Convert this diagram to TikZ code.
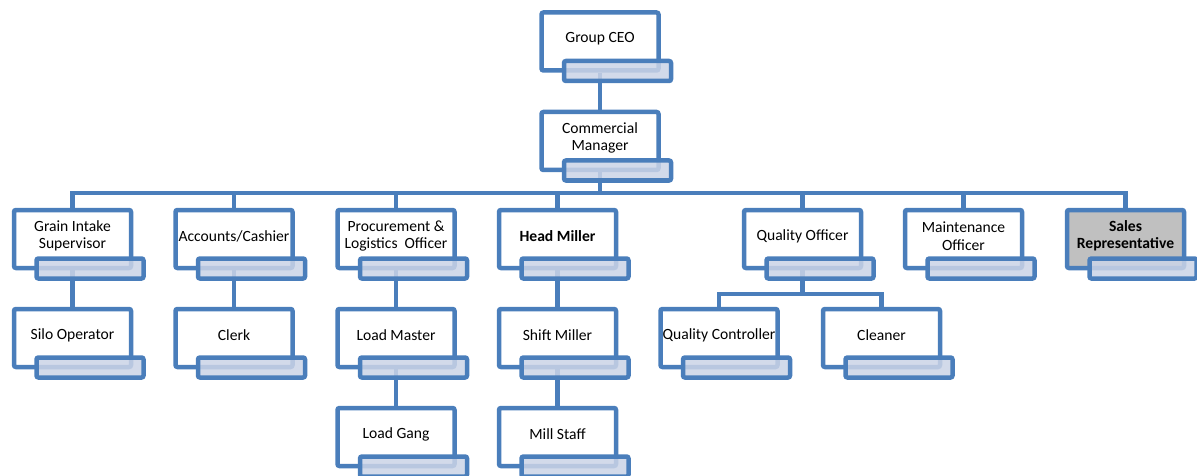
\documentclass[tikz,border=0pt]{standalone}
\usepackage{fontspec}
\setmainfont{Carlito}
\usepackage{tikz}
\usetikzlibrary{calc, backgrounds, positioning}
\usepackage{xcolor}
\definecolor{orgline}{RGB}{74,126,187}
\definecolor{orgsub}{RGB}{203,212,231}
\definecolor{orggray}{RGB}{192,192,192}

\newcommand{\orgbox}[4][]{%
  \node[mainbox, #1] (#2) at #3 {};
  \node[boxtext] (#2t) at ($(#2.center)+(0,-3)$) {#4};
  \node[subbox] (#2s) at ($(#2.center)+(17.5,29.5)$) {};}

\begin{document}
\begin{tikzpicture}[x=1pt, y=-1pt,
    every node/.style={font=\fontsize{15.6}{17.5}\selectfont},
    mainbox/.style={draw=orgline, line width=4.5pt, fill=white, rounded corners=2pt,
      minimum width=117pt, minimum height=58pt, inner sep=0pt},
    boxtext/.style={inner sep=0pt, align=center},
    subbox/.style={draw=orgline, line width=4.5pt, fill=orgsub, fill opacity=0.86,
      rounded corners=2pt, minimum width=107pt, minimum height=20pt, inner sep=0pt},
    conn/.style={draw=orgline, line width=4.5pt}]
  \useasboundingbox (0,0) rectangle (1197,476);
  % top of the chart
  \orgbox{ceo}{(600,41.5)}{Group CEO}
  \orgbox{cm}{(600,141)}{Commercial\\Manager}
  % second row
  \orgbox{gis}{(72.5,239)}{Grain Intake\\Supervisor}
  \orgbox{acc}{(234,239)}{Accounts/Cashier}
  \orgbox{proc}{(396,239)}{Procurement \&\\Logistics\ \ Officer}
  \orgbox{hm}{(557.5,239)}{\textbf{Head Miller}}
  \orgbox{qo}{(802.5,239)}{Quality Officer}
  \orgbox{mo}{(963.5,239)}{Maintenance\\Officer}
  \orgbox[fill=orggray]{sr}{(1125.5,239)}{\textbf{Sales}\\\textbf{Representative}}
  % third row
  \orgbox{silo}{(72.5,338)}{Silo Operator}
  \orgbox{clerk}{(234,338)}{Clerk}
  \orgbox{lm}{(396,338)}{Load Master}
  \orgbox{sm}{(557.5,338)}{Shift Miller}
  \orgbox{qc}{(719,338)}{Quality Controller}
  \orgbox{cl}{(881.5,338)}{Cleaner}
  % fourth row
  \orgbox{lg}{(396,437)}{Load Gang}
  \orgbox{ms}{(557.5,437)}{Mill Staff}
  % connectors
  \coordinate (bus) at (600,193);
  \coordinate (qbus) at (802.5,294);
  \begin{scope}[on background layer]
    \draw[conn] (ceo.south) -- (cm.north);
    \foreach \n in {gis,acc,proc,hm,qo,mo,sr}
      \draw[conn, line join=miter] (cm.south) -- (cm.south |- bus) -| (\n.north);
    \draw[conn] (gis.south) -- (silo.north);
    \draw[conn] (acc.south) -- (clerk.north);
    \draw[conn] (proc.south) -- (lm.north);
    \draw[conn] (lm.south) -- (lg.north);
    \draw[conn] (hm.south) -- (sm.north);
    \draw[conn] (sm.south) -- (ms.north);
    \foreach \n in {qc,cl}
      \draw[conn, line join=miter] (qo.south) -- (qo.south |- qbus) -| (\n.north);
  \end{scope}
\end{tikzpicture}
\end{document}
